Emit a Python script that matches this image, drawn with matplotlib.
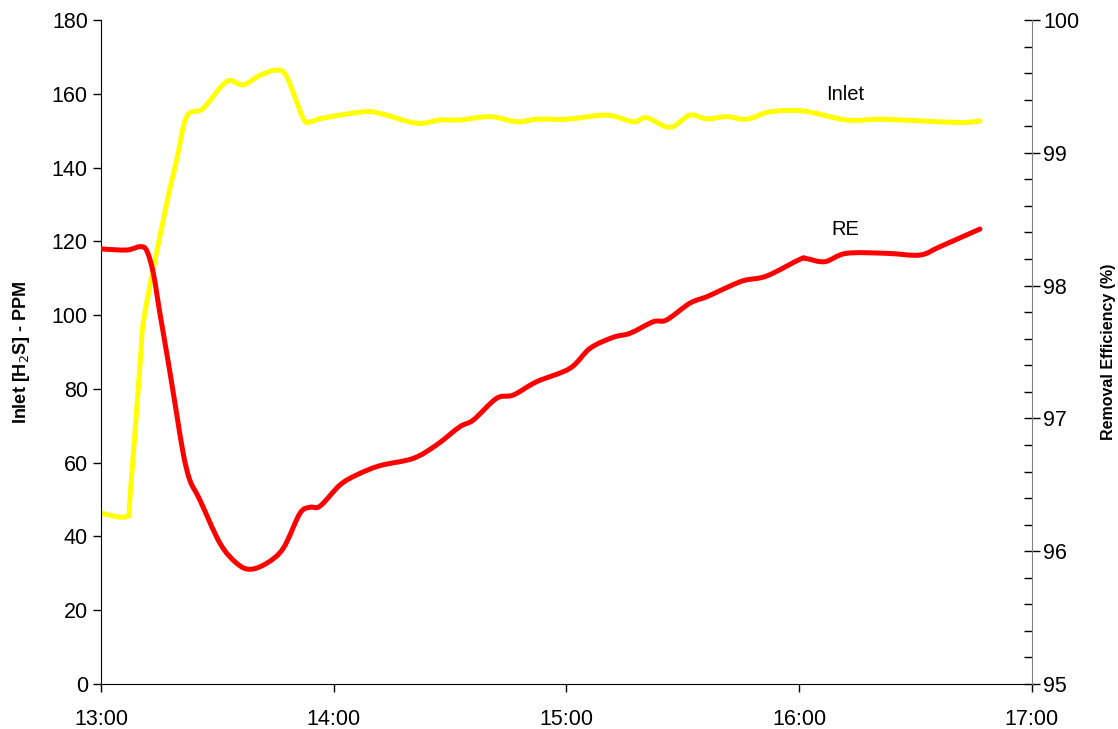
import numpy as np
import matplotlib
matplotlib.use("Agg")
import matplotlib.pyplot as plt
from matplotlib.path import Path
from matplotlib.patches import PathPatch

plt.rcParams['font.family'] = ['Liberation Sans', 'DejaVu Sans']

# minutes after 13:00
inlet_t = [0, 6.6, 7.5, 10.1, 11.3, 16.9, 19.5, 22.1, 26.3, 32.4, 36.6, 41.0, 45.3, 47.9,
           52.1, 53.9, 57.2, 67.5, 71.9, 81.4, 87.4, 92.5, 100.3, 107.2, 112.3, 120.1,
           130.4, 137.2, 140.7, 146.7, 151.8, 156.2, 161.3, 166.5, 172.5, 181.1, 192.2,
           200.8, 210.3, 221.4, 226.6]
inlet_ppm = [46.3, 45.4, 50.8, 87.0, 100.5, 130.0, 142.0, 153.8, 156.0, 163.3, 162.4, 165.0,
             166.4, 164.6, 153.4, 152.4, 153.4, 155.1, 154.7, 152.0, 152.9, 152.9, 153.8,
             152.4, 153.1, 153.1, 154.2, 152.4, 153.5, 150.9, 154.2, 153.2, 153.8, 153.1,
             155.1, 155.3, 152.9, 153.1, 152.7, 152.2, 152.6]

re_t = [0, 6.6, 10.1, 11.8, 13.5, 15.2, 17.4, 19.5, 21.2, 22.9, 25.5, 30.7, 35.0, 38.4,
        42.7, 47.0, 51.3, 53.9, 56.5, 61.6, 65.9, 71.9, 80.5, 86.5, 92.5, 96.0, 102.0,
        106.3, 112.3, 120.9, 126.1, 132.1, 136.4, 142.4, 145.8, 151.8, 156.2, 159.6,
        165.6, 171.6, 180.2, 181.9, 186.6, 192.2, 202.5, 211.1, 216.3, 226.6]
re_pct = [98.276, 98.268, 98.293, 98.263, 98.093, 97.791, 97.415, 97.038, 96.737, 96.536,
          96.386, 96.059, 95.909, 95.864, 95.909, 96.022, 96.285, 96.331, 96.340, 96.498,
          96.574, 96.644, 96.699, 96.800, 96.937, 96.988, 97.151, 97.176, 97.276, 97.377,
          97.528, 97.611, 97.641, 97.728, 97.741, 97.867, 97.916, 97.962, 98.037, 98.072,
          98.198, 98.203, 98.180, 98.243, 98.243, 98.230, 98.293, 98.426]

hour_ticks = [0, 60, 120, 180, 240]
hour_labels = ["13:00", "14:00", "15:00", "16:00", "17:00"]


def smooth_line(ax, x, y, **kw):
    # Excel-style smoothed line: bezier segments through the data points
    x = np.asarray(x, float)
    y = np.asarray(y, float)
    xp = np.concatenate([[x[0]], x, [x[-1]]])
    yp = np.concatenate([[y[0]], y, [y[-1]]])
    verts = [(x[0], y[0])]
    codes = [Path.MOVETO]
    for i in range(1, len(x)):
        c1 = (xp[i] + (xp[i + 1] - xp[i - 1]) / 6, yp[i] + (yp[i + 1] - yp[i - 1]) / 6)
        c2 = (xp[i + 1] - (xp[i + 2] - xp[i]) / 6, yp[i + 1] - (yp[i + 2] - yp[i]) / 6)
        verts += [c1, c2, (x[i], y[i])]
        codes += [Path.CURVE4] * 3
    patch = PathPatch(Path(verts, codes), fill=False, transform=ax.transData,
                      joinstyle='round', capstyle='round', **kw)
    ax.add_patch(patch)


fig = plt.figure(figsize=(11.18, 7.29), dpi=100)
ax = fig.add_axes([0.0903, 0.0617, 0.8327, 0.9109])
ax2 = ax.twinx()

smooth_line(ax, inlet_t, inlet_ppm, edgecolor='#FFFF00', lw=3.6)
smooth_line(ax2, re_t, re_pct, edgecolor='#FF0000', lw=3.6)

ax.set_xlim(0, 240)
ax.set_ylim(0, 180)
ax2.set_ylim(95, 100)

ax.set_xticks(hour_ticks)
ax.set_xticklabels(hour_labels)
ax.set_yticks(np.arange(0, 181, 20))
ax2.set_yticks(np.arange(95, 100.1, 1))
ax2.set_yticks(np.arange(95, 100.01, 0.2), minor=True)

for a in (ax, ax2):
    a.spines['top'].set_visible(False)
ax2.spines['left'].set_visible(False)
ax2.spines['bottom'].set_visible(False)
ax2.spines['right'].set_color('#808080')
ax.spines['right'].set_visible(False)

ax.tick_params(axis='both', labelsize=15.5, direction='out', length=6, width=1)
ax.tick_params(axis='x', pad=12)
ax2.tick_params(axis='y', which='major', labelsize=15.5, direction='inout', length=12, width=1, pad=2)
ax2.tick_params(axis='y', which='minor', direction='in', length=6, width=1)

ax.set_ylabel("Inlet [H$_2$S] - PPM", fontsize=13, fontweight='bold', labelpad=14)
ax2.set_ylabel("Removal Efficiency (%)", fontsize=11.5, fontweight='bold', labelpad=16)

ax.text(191.8, 159.7, "Inlet", fontsize=14.5, ha='center', va='center')
ax2.text(191.8, 98.426, "RE", fontsize=14.5, ha='center', va='center')

fig.savefig("out.png", dpi=100)
